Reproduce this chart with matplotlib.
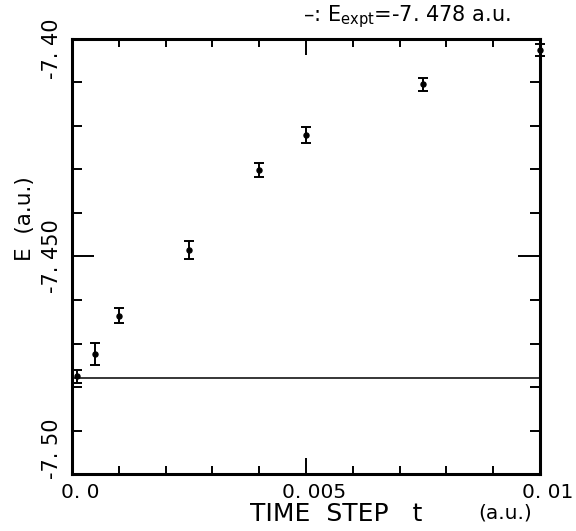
import matplotlib
matplotlib.use("Agg")
import matplotlib.pyplot as plt
import matplotlib.transforms as mtransforms
from matplotlib.ticker import MultipleLocator, FixedLocator

# Data
time_step = [0.0001, 0.0005, 0.001, 0.0025, 0.004, 0.005, 0.0075, 0.01]
energy = [-7.4775, -7.4724, -7.4636, -7.4485, -7.4302, -7.4221, -7.4104, -7.4026]
energy_err = [0.0015, 0.0025, 0.0017, 0.0020, 0.0016, 0.0018, 0.0015, 0.0013]
e_expt = -7.478

x_ticks = [0.0, 0.005, 0.01]
x_tick_labels = ["0. 0", "0. 005", "0. 01"]
y_ticks = [-7.50, -7.45, -7.40]
y_tick_labels = ["-7. 50", "-7. 450", "-7. 40"]

plt.rcParams['font.family'] = ['DejaVu Sans']

fig = plt.figure(figsize=(5.76, 5.31), dpi=100)
ax = fig.add_axes([0.125, 0.107, 0.8125, 0.820])

# Experimental energy line
ax.axhline(e_expt, color='black', linewidth=1.1)

# DMC energies with error bars
ax.errorbar(time_step, energy, yerr=energy_err, fmt='o', color='black',
            markersize=3.6, elinewidth=1.4, capsize=3.8, capthick=1.4,
            clip_on=False, zorder=3)

ax.set_xlim(0.0, 0.01)
ax.set_ylim(-7.50, -7.40)

for side in ax.spines.values():
    side.set_linewidth(2.2)

ax.xaxis.set_major_locator(FixedLocator(x_ticks))
ax.xaxis.set_minor_locator(MultipleLocator(0.001))
ax.yaxis.set_major_locator(FixedLocator(y_ticks))
ax.yaxis.set_minor_locator(MultipleLocator(0.01))
ax.set_xticklabels(x_tick_labels)
ax.set_yticklabels(y_tick_labels, rotation=90, va='center')

ax.tick_params(axis='x', which='major', direction='in', top=True, length=11.5,
               width=1.4, pad=6.5, labelsize=14.5)
ax.tick_params(axis='x', which='minor', direction='in', top=True, length=5.5, width=1.4)
ax.tick_params(axis='y', which='major', direction='in', right=True, length=16,
               width=1.4, pad=7, labelsize=15)
ax.tick_params(axis='y', which='minor', direction='in', right=True, length=7.5, width=1.4)

# nudge tick labels the way the original typesetting has them
shift_x = mtransforms.ScaledTranslation(0.08, 0, fig.dpi_scale_trans)
for lab in ax.get_xticklabels():
    lab.set_transform(lab.get_transform() + shift_x)
y_shifts = [0.25, 0.0, -0.10]
for lab, dy in zip(ax.get_yticklabels(), y_shifts):
    lab.set_transform(lab.get_transform() + mtransforms.ScaledTranslation(0, dy, fig.dpi_scale_trans))

# Axis labels
ax.text(0.380, -0.092, "TIME  STEP   t", transform=ax.transAxes,
        fontsize=18, ha='left', va='center')
ax.text(0.8675, -0.090, "(a.u.)", transform=ax.transAxes,
        fontsize=14.5, ha='left', va='center')
ax.text(-0.100, 0.588, "E  (a.u.)", transform=ax.transAxes,
        fontsize=15.5, rotation=90, ha='center', va='center')

# Legend-like note
ax.text(0.494, 1.041, r"–: E$_{\mathrm{expt}}$=-7. 478 a.u.", transform=ax.transAxes,
        fontsize=15, ha='left', va='baseline')

fig.savefig("out.png", dpi=100)
